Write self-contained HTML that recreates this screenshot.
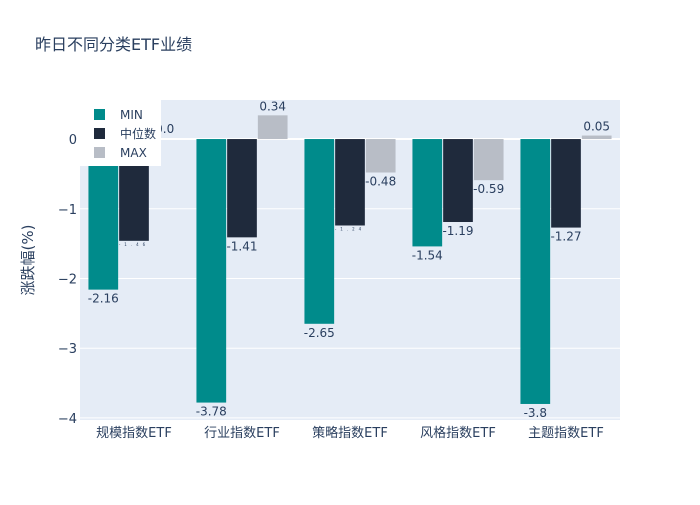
<!DOCTYPE html>
<html><head><meta charset="utf-8"><style>
body{margin:0;background:#fff;font-family:"Liberation Sans","Noto Sans CJK SC",sans-serif}
svg text{font-family:"DejaVu Sans","Liberation Sans","Noto Sans CJK SC",sans-serif}
</style></head><body>
<svg id="c" width="700" height="500">
<rect width="700" height="500" fill="#fff"/>
<text x="35" y="50" font-size="16" fill="#2a3f5f">昨日不同分类ETF业绩</text>
<rect x="80" y="100" width="540" height="320" fill="#e5ecf6"/>
<g id="grid"></g><g id="bars"></g><g id="labels"></g><g id="axes"></g>
<text transform="translate(33,260) rotate(-90)" text-anchor="middle" font-size="15" fill="#2a3f5f">涨跌幅(%)</text>
<g>
<rect x="80" y="100" width="81" height="66" fill="#fff"/>
</g>
<g id="legend"></g>
</svg>
<script>
const categories=["规模指数ETF","行业指数ETF","策略指数ETF","风格指数ETF","主题指数ETF"];
const minVals=[-2.16,-3.78,-2.65,-1.54,-3.8];
const medVals=[-1.46,-1.41,-1.24,-1.19,-1.27];
const maxVals=[0.0,0.34,-0.48,-0.59,0.05];
const seriesNames=["MIN","中位数","MAX"];
const colors=["#008b8b","#1f2a3c","#b8bdc6"];
const yTicks=[0,-1,-2,-3,-4];
const tinyLabel=[true,false,true,false,false];
const NS="http://www.w3.org/2000/svg";
const x0=80,pw=540,yMin=-4.03,yMax=0.56,plotTop=100,plotBot=420;
const y=v=>plotTop+(yMax-v)/(yMax-yMin)*(plotBot-plotTop);
const band=pw/categories.length,bw=30.7;
function mk(t,a,p){const e=document.createElementNS(NS,t);for(const k in a)e.setAttribute(k,a[k]);document.getElementById(p).appendChild(e);return e;}
yTicks.forEach(t=>{
 const l=mk("line",{x1:x0,x2:x0+pw,y1:y(t),y2:y(t),stroke:"#fff","stroke-width":t===0?2:1},"grid");
 
 
 const tx=mk("text",{x:77,y:y(t)+5,"text-anchor":"end","font-size":13,fill:"#2a3f5f"},"axes");
 tx.textContent=t===0?"0":"−"+Math.abs(t);
 
 
});
categories.forEach((c,i)=>{
 const cx=x0+band*(i+0.5);
 const tx=mk("text",{x:cx,y:437,"text-anchor":"middle","font-size":13,fill:"#2a3f5f"},"axes");
 tx.textContent=c;
 
 
 [minVals,medVals,maxVals].forEach((arr,s)=>{
  const v=arr[i],bx=cx+(s-1)*bw-bw/2;
  const r=mk("rect",{x:bx+0.5,y:Math.min(y(v),y(0)),width:bw-1,height:Math.abs(y(v)-y(0)),fill:colors[s]},"bars");
  
  
  const small=s===1&&tinyLabel[i];
  const ly=v>0?y(v)-5:(v===0?y(0)-6:y(v)+(small?5:13));
  const attrs={x:bx+bw/2,y:ly,"text-anchor":"middle","font-size":small?4:12,fill:"#2a3f5f"};
  if(small)attrs["letter-spacing"]="4";
  const lt=mk("text",attrs,"labels");
  lt.textContent=v===0?"0.0":String(v);
  
  
 });
});
seriesNames.forEach((n,s)=>{
 const yy=115+s*19;
 const r=mk("rect",{x:94,y:yy-6,width:11,height:11,fill:colors[s]},"legend");
 
 
 const t=mk("text",{x:120,y:yy+4,"font-size":12,fill:"#2a3f5f"},"legend");
 t.textContent=n;
 
 
});
</script>
</body></html>
